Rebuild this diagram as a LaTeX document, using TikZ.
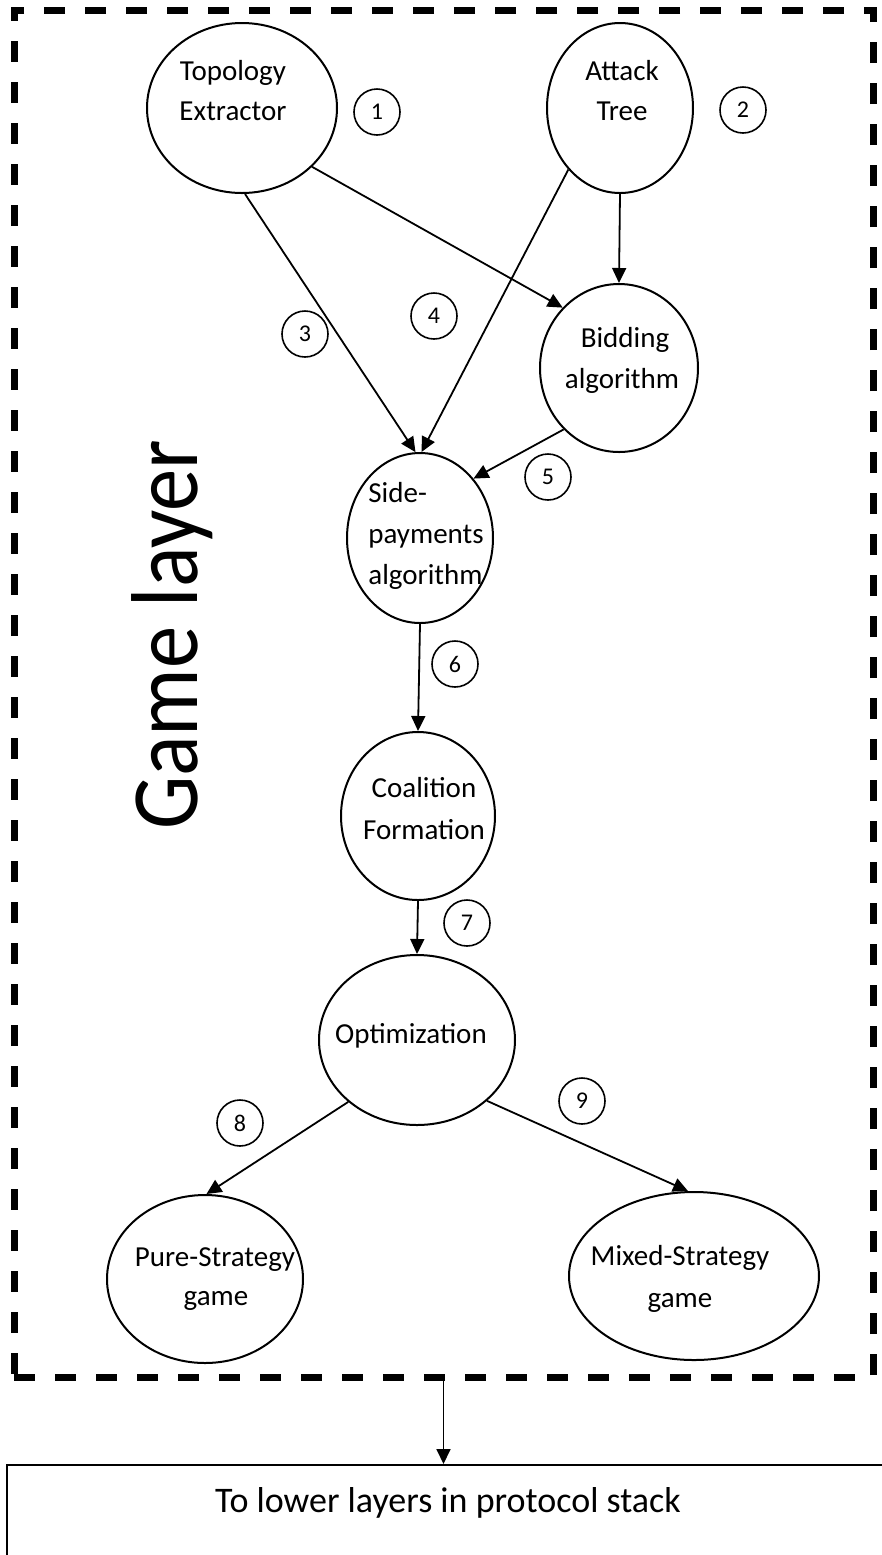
\documentclass[tikz,border=0pt]{standalone}
\usepackage{fontspec}
\setmainfont{Carlito}
\usetikzlibrary{shapes.geometric, arrows.meta, fit}
\begin{document}
\begin{tikzpicture}[x=0.5pt, y=-0.5pt,
  oval/.style={draw, ellipse, line width=1pt, inner sep=0pt},
  num/.style={draw, circle, line width=0.8pt, minimum size=23pt, inner sep=0pt, font=\fontsize{12}{14}\selectfont},
  lbl/.style={anchor=base, inner sep=0pt, font=\fontsize{14.5}{17}\selectfont},
  lbll/.style={lbl, anchor=base west},
  arr/.style={-{Triangle[length=7.5pt,width=7pt]}, line width=0.9pt},
  frame/.style={draw, line width=3.5pt, dash pattern=on 10.5pt off 10pt, inner sep=0pt}]
\useasboundingbox (0,0) rectangle (882,1555);

% dashed game-layer frame
\coordinate (ftl) at (14,10);
\coordinate (fbr) at (873,1377);
\node[frame, fit=(ftl)(fbr)] (game) {};

% Game layer title
\node[rotate=90, xscale=0.89, anchor=base, inner sep=0pt, font=\fontsize{47.5}{50}\selectfont] (gl) at (197,635) {Game layer};

% ellipses
\node[oval, minimum width=95pt, minimum height=85pt] (topo) at (242,108) {};
\node[oval, minimum width=73pt, minimum height=85pt] (attack) at (620,108) {};
\node[oval, minimum width=79pt, minimum height=84pt] (bid) at (619,368) {};
\node[oval, minimum width=73pt, minimum height=85pt] (side) at (420,538) {};
\node[oval, minimum width=77pt, minimum height=84pt] (coal) at (418,816) {};
\node[oval, minimum width=98pt, minimum height=85pt] (opt) at (417,1040) {};
\node[oval, minimum width=98pt, minimum height=84pt] (pure) at (205,1279) {};
\node[oval, minimum width=125pt, minimum height=84pt] (mixed) at (694,1276) {};

% ellipse texts
\node[lbl] (topoA) at (233,80) {Topology};
\node[lbl] (topoB) at (233,120) {Extractor};
\node[lbl] (attA) at (622,80) {Attack};
\node[lbl] (attB) at (622,120) {Tree};
\node[lbl] (bidA) at (625,347) {Bidding};
\node[lbl] (bidB) at (622,388) {algorithm};
\node[lbll] (sideA) at (368,502) {Side-};
\node[lbll] (sideB) at (368,543) {payments};
\node[lbll] (sideC) at (368,584) {algorithm};
\node[lbl] (coalA) at (424,797) {Coalition};
\node[lbl] (coalB) at (424,839) {Formation};
\node[lbl] (optA) at (411,1043) {Optimization};
\node[lbl] (pureA) at (215,1266) {Pure-Strategy};
\node[lbl] (pureB) at (216,1305) {game};
\node[lbl] (mixA) at (680,1265) {Mixed-Strategy};
\node[lbl] (mixB) at (680,1307) {game};

% numbered circles
\node[num] (n1) at (377,112) {1};
\node[num] (n2) at (743,110) {2};
\node[num] (n3) at (305,334) {3};
\node[num] (n4) at (434,316) {4};
\node[num] (n5) at (548,477) {5};
\node[num] (n6) at (455,664) {6};
\node[num] (n7) at (467,923) {7};
\node[num] (n8) at (240,1123) {8};
\node[num] (n9) at (582,1101) {9};

% connectors
\draw[arr] (topo.-88) -- (side.93);
\draw[arr] (attack.-130.4) -- (side.89);
\draw[arr] (topo.-40.2) -- (bid.133.5);
\draw[arr] (attack.-90) -- (bid.90);
\draw[arr] (bid.-132.1) -- (side.48.7);
\draw[arr] (side.-90) -- (coal.90);
\draw[arr] (coal.-90) -- (opt.90);
\draw[arr] (opt.-138.5) -- (pure.89);
\draw[arr] (opt.-41.1) -- (mixed.94);

% lower layers box
\begin{scope}
\clip (0,0) rectangle (882,1555);
\node[draw, line width=0.8pt, anchor=north west, minimum width=500pt, minimum height=100pt, inner sep=0pt] (lower) at (6,1464) {};
\end{scope}
\node[anchor=base, inner sep=0pt, font=\fontsize{18}{20}\selectfont] (lowtxt) at (448,1512) {To lower layers in protocol stack};
\draw[arr] (game.south) -- (game.south |- lower.north);
\end{tikzpicture}
\end{document}
